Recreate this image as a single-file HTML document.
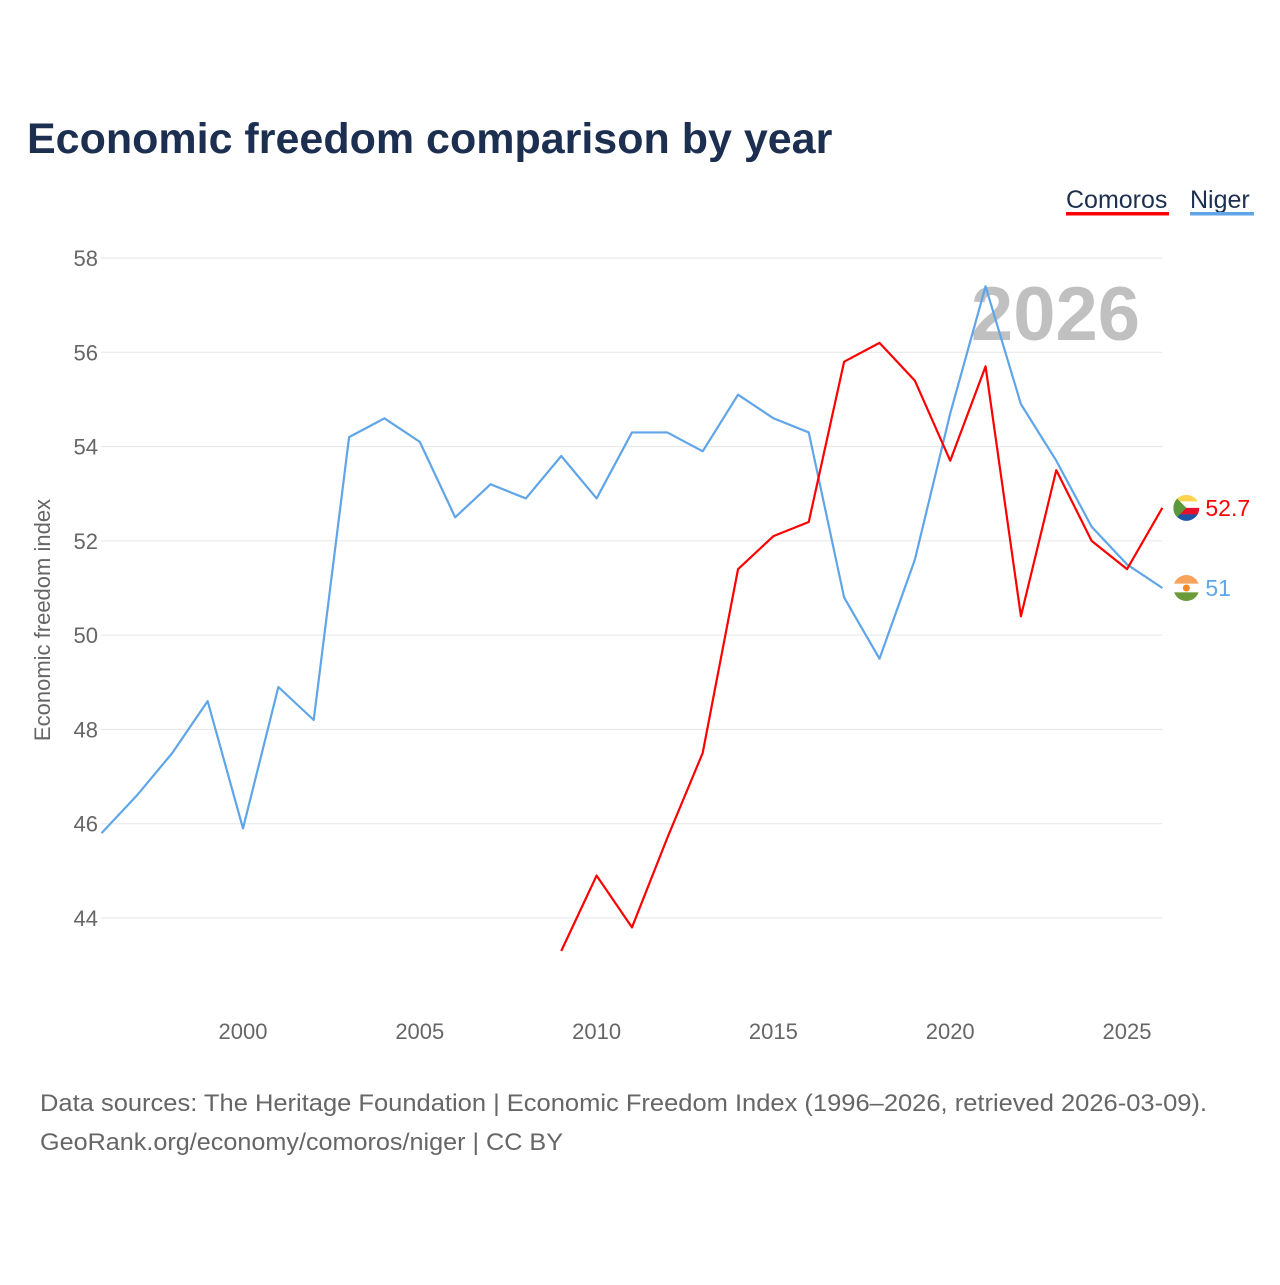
<!DOCTYPE html>
<html><head><meta charset="utf-8"><style>
body{margin:0;background:#fff;width:1280px;height:1280px;overflow:hidden;font-family:"Liberation Sans",sans-serif}
</style></head><body>
<svg width="1280" height="1280">
<defs>
<clipPath id="cc"><circle cx="0" cy="0" r="13"/></clipPath>
</defs>
<text x="27" y="153" font-size="43" font-weight="bold" fill="#1c2f50">Economic freedom comparison by year</text>
<g>
<text x="1066" y="208" font-size="25" fill="#1c2f50">Comoros</text>
<rect x="1066" y="212" width="103" height="3.5" fill="#ff0000"/>
<text x="1190" y="208" font-size="25" fill="#1c2f50">Niger</text>
<rect x="1190" y="212" width="64" height="3.5" fill="#5fa5e8"/>
</g>
<g id="grid"></g>
<text x="1140" y="340" font-size="76" font-weight="bold" fill="#c0c0c0" text-anchor="end">2026</text>
<g id="yticks"></g>
<g id="xticks"></g>
<text transform="translate(50,620) rotate(-90)" font-size="22" fill="#666" text-anchor="middle">Economic freedom index</text>
<g id="lines"></g>
<text x="40" y="1111" font-size="24" fill="#666" textLength="1167" lengthAdjust="spacingAndGlyphs">Data sources: The Heritage Foundation | Economic Freedom Index (1996–2026, retrieved 2026-03-09).</text>
<text x="40" y="1150" font-size="24" fill="#666" textLength="523" lengthAdjust="spacingAndGlyphs">GeoRank.org/economy/comoros/niger | CC BY</text>
</svg>
<script>
const yTicks=[44,46,48,50,52,54,56,58];
const xTicks=[2000,2005,2010,2015,2020,2025];
const nigerYears=[1996,1997,1998,1999,2000,2001,2002,2003,2004,2005,2006,2007,2008,2009,2010,2011,2012,2013,2014,2015,2016,2017,2018,2019,2020,2021,2022,2023,2024,2025,2026];
const nigerValues=[45.8,46.6,47.5,48.6,45.9,48.9,48.2,54.2,54.6,54.1,52.5,53.2,52.9,53.8,52.9,54.3,54.3,53.9,55.1,54.6,54.3,50.8,49.5,51.6,54.7,57.4,54.9,53.7,52.3,51.5,51.0];
const comorosYears=[2009,2010,2011,2012,2013,2014,2015,2016,2017,2018,2019,2020,2021,2022,2023,2024,2025,2026];
const comorosValues=[43.3,44.9,43.8,45.7,47.5,51.4,52.1,52.4,55.8,56.2,55.4,53.7,55.7,50.4,53.5,52.0,51.4,52.7];
const NS="http://www.w3.org/2000/svg";
const x=yr=>243+(yr-2000)*35.36;
const y=v=>918-(v-44)*47.143;
function mk(tag,attrs,parent){const e=document.createElementNS(NS,tag);for(const k in attrs)e.setAttribute(k,attrs[k]);parent.appendChild(e);return e;}
const grid=document.getElementById('grid'),yt=document.getElementById('yticks'),xt=document.getElementById('xticks'),ln=document.getElementById('lines');
yTicks.forEach(t=>{
 const l=mk('line',{x1:101,x2:1162,y1:y(t),y2:y(t),stroke:'#e6e6e6','stroke-width':1},grid);
 
 
 const tx=mk('text',{x:98,y:y(t)+8,'font-size':22,fill:'#666','text-anchor':'end'},yt);
 tx.textContent=t;
 
 
});
xTicks.forEach(t=>{
 const tx=mk('text',{x:x(t),y:1039,'font-size':22,fill:'#666','text-anchor':'middle'},xt);
 tx.textContent=t;
 
 
});
function flag(cx,cy,stripes,name,extra){
 const g=mk('g',{transform:'translate('+cx+','+cy+')','clip-path':'url(#cc)'},ln);
 
 
 const h=26/stripes.length;
 stripes.forEach((c,i)=>mk('rect',{x:-13,y:-13+i*h,width:26,height:h+0.5,fill:c},g));
 if(extra)extra(g);
}
function series(years,vals,color,name,stripes,extra){
 const p=mk('polyline',{points:years.map((yr,i)=>x(yr)+','+y(vals[i])).join(' '),fill:'none',stroke:color,'stroke-width':2.2,'stroke-linejoin':'round'},ln);
 
 
 const lx=x(years[years.length-1]),ly=y(vals[vals.length-1]);
 flag(lx+24,ly,stripes,name,extra);
 const t=mk('text',{x:lx+43,y:ly+8,'font-size':23,fill:color},ln);
 t.textContent=String(vals[vals.length-1]);
 
 
}
series(nigerYears,nigerValues,'#5fa5e8','niger',['#f7a35c','#ffffff','#6a9a3c'],g=>mk('circle',{cx:0,cy:0,r:3.5,fill:'#f08a24'},g));
series(comorosYears,comorosValues,'#ff0000','comoros',['#ffd34d','#ffffff','#e8112d','#1f55a6'],g=>mk('polygon',{points:'-13,-13 0,0 -13,13',fill:'#5a9a3a'},g));
</script>
</body></html>
